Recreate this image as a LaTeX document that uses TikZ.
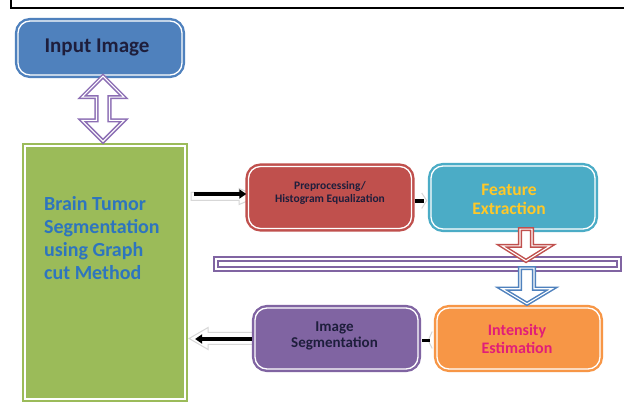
\documentclass[tikz,border=0pt]{standalone}
\usepackage{fontspec}
\setmainfont{Carlito}
\usetikzlibrary{calc,arrows.meta}
\definecolor{cblue}{RGB}{79,129,189}
\definecolor{cgreen}{RGB}{155,187,89}
\definecolor{cred}{RGB}{192,80,77}
\definecolor{cteal}{RGB}{75,172,198}
\definecolor{corange}{RGB}{247,150,70}
\definecolor{cpurple}{RGB}{128,100,162}
\definecolor{carrpurple}{RGB}{140,110,180}
\definecolor{ctxt}{RGB}{30,30,60}
\definecolor{cbraintxt}{RGB}{46,117,190}
\definecolor{cyel}{RGB}{255,200,40}
\definecolor{cmag}{RGB}{225,30,120}
\definecolor{cshadow}{RGB}{215,215,215}
\tikzset{
  rbox/.style={rounded corners=12pt, draw=#1, fill=#1, double=white, double distance=1.3pt, line width=2.4pt, inner sep=0pt},
  sbox/.style={draw=#1, fill=#1, double=white, double distance=1.3pt, line width=2.2pt, inner sep=0pt},
  blockarr/.style={draw=#1, line width=1.5pt, double=white, double distance=1.1pt, fill=white, line join=miter},
  shadowarr/.style={draw=cshadow, line width=1pt, fill=white, line join=miter},
  blackarr/.style={line width=3.2pt, -{Triangle[length=7pt,width=9pt]}},
  dashline/.style={line width=3.6pt},
  lbl/.style={font=\bfseries, align=center, inner sep=0pt}
}
\begin{document}
\begin{tikzpicture}[x=1pt,y=1pt]
\useasboundingbox[fill=white] (0,0) rectangle (624,415);
% frame
\draw[line width=2pt] (11,415) -- (11,407) -- (624,407);

% brain box
\node[sbox=cgreen, minimum width=160pt, minimum height=253pt] (brain) at (105,142.5) {};
\node[lbl, text=cbraintxt, font=\bfseries\fontsize{20}{23.2}\selectfont, align=left, anchor=west] (braintxt) at (44,177) {Brain Tumor\\Segmentation\\using Graph\\cut Method};

% shadow arrows (behind boxes)
\draw[shadowarr] let \p1=($(brain.east)+(5,76)$), \p2=($(brain.east)+(72,76)$) in
  (\x1,{\y1+4pt}) -- ({\x2-19pt},{\y1+4pt}) -- ({\x2-19pt},{\y1+8pt}) -- (\x2,\y1) -- ({\x2-19pt},{\y1-8pt}) -- ({\x2-19pt},{\y1-4pt}) -- (\x1,{\y1-4pt}) -- cycle;
\draw[shadowarr] let \p1=($(brain.east)+(3,-66)$), \p2=($(brain.east)+(70,-66)$) in
  (\x1,\y1) -- ({\x1+19pt},{\y1+11pt}) -- ({\x1+19pt},{\y1+6pt}) -- (\x2,{\y1+6pt}) -- (\x2,{\y1-6pt}) -- ({\x1+19pt},{\y1-6pt}) -- ({\x1+19pt},{\y1-11pt}) -- cycle;

\node[rbox=cblue, minimum width=164pt, minimum height=54pt] (inp) at (100,367) {};
\node[lbl, text=ctxt, font=\bfseries\fontsize{21}{24}\selectfont] (inptxt) at (97,368) {Input Image};

\node[rbox=cred, minimum width=163pt, minimum height=62pt] (pre) at (330,217.5) {};
\node[lbl, text=ctxt, font=\bfseries\fontsize{11.5}{12.5}\selectfont] (pretxt) at (330,222) {Preprocessing/\\Histogram Equalization};

\node[rbox=cteal, minimum width=164pt, minimum height=63pt] (feat) at (513,217.5) {};
\node[lbl, text=cyel, font=\bfseries\fontsize{17.5}{19}\selectfont] (feattxt) at (509,215.5) {Feature\\Extraction};

\node[sbox=cpurple, fill=white, minimum width=403pt, minimum height=10pt] (bar) at (417.5,151) {};

\node[rbox=corange, minimum width=163pt, minimum height=61pt] (intens) at (518.5,76.5) {};
\node[lbl, text=cmag, font=\bfseries\fontsize{16}{18}\selectfont] (intenstxt) at (517,76.5) {Intensity\\Estimation};

\node[rbox=cpurple, minimum width=163pt, minimum height=61pt] (seg) at (336.5,76.5) {};
\node[lbl, text=ctxt, font=\bfseries\fontsize{15}{16}\selectfont] (segtxt) at (334.5,79.5) {Image\\Segmentation};

% purple double arrow between input and brain
\draw[blockarr=carrpurple] let \p1=($(inp.south)+(3,0)$), \p2=($(brain.north)+(-2,3.5)$) in
  (\x1,\y1) -- ({\x1+21pt},{\y1-21pt}) -- ({\x1+6.5pt},{\y1-21pt}) -- ({\x1+6.5pt},{\y2+21pt}) -- ({\x1+21pt},{\y2+21pt})
  -- (\x1,\y2) -- ({\x1-21pt},{\y2+21pt}) -- ({\x1-6.5pt},{\y2+21pt}) -- ({\x1-6.5pt},{\y1-21pt}) -- ({\x1-21pt},{\y1-21pt}) -- cycle;

% red down arrow feature -> bar
\draw[blockarr=cred] let \p1=($(feat.south)+(13,1)$), \p2=($(bar.north)+(0,-3)$) in
  ({\x1-6pt},\y1) -- ({\x1+6pt},\y1) -- ({\x1+6pt},{\y2+15pt}) -- ({\x1+24pt},{\y2+15pt}) -- (\x1,\y2)
  -- ({\x1-24pt},{\y2+15pt}) -- ({\x1-6pt},{\y2+15pt}) -- cycle;

% blue down arrow bar -> intensity
\draw[blockarr=cblue] let \p1=($(feat.south)+(14,0)$), \p2=($(bar.south)+(0,2)$), \p3=($(intens.north)+(0,3)$) in
  ({\x1-7pt},\y2) -- ({\x1+7pt},\y2) -- ({\x1+7pt},{\y3+15pt}) -- ({\x1+25pt},{\y3+15pt}) -- (\x1,\y3)
  -- ({\x1-25pt},{\y3+15pt}) -- ({\x1-7pt},{\y3+15pt}) -- cycle;

% black arrows
\draw[blackarr] ($(brain.east |- pre.west)+(8,3.5)$) -- ($(pre.west)+(-1,3.5)$);
\draw[blackarr] ($(seg.west)+(-2,-0.5)$) -- ($(brain.east |- seg.west)+(9,-0.5)$);

% connector dashes with light chevrons
\draw[cshadow, line width=1pt] ($(pre.east)+(9,4.5)$) -- ($(pre.east)+(14,-3)$) -- ($(pre.east)+(9,-11)$);
\draw[dashline] ($(pre.east)+(2,-3.5)$) -- ($(feat.west)+(-6,-3.5)$);
\draw[cshadow, line width=1pt] ($(seg.east)+(13,7)$) -- ($(seg.east)+(9,-2)$) -- ($(seg.east)+(13,-10)$);
\draw[dashline] ($(seg.east)+(3,-2.2)$) -- ($(intens.west)+(-6,-2.2)$);
\end{tikzpicture}
\end{document}
